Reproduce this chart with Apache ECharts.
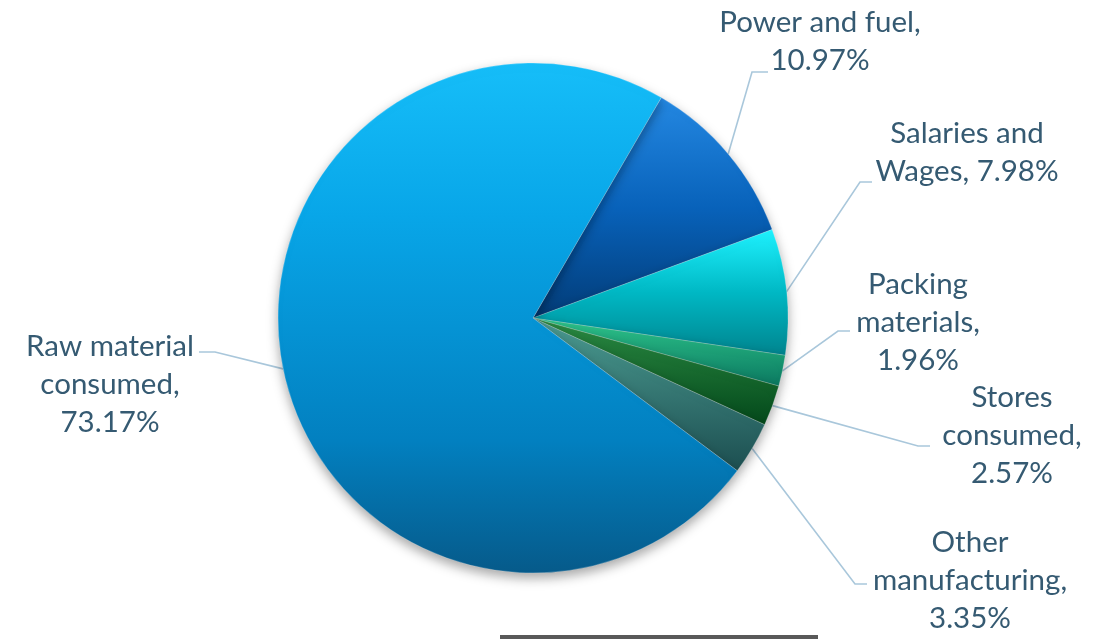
<!DOCTYPE html>
<html>
<head>
<meta charset="utf-8">
<title>Cost structure</title>
<script src="https://cdn.jsdelivr.net/npm/echarts@6/dist/echarts.min.js"></script>
<style>
  html, body { margin: 0; padding: 0; background: #ffffff; }
  #chart { width: 1101px; height: 639px; }
</style>
</head>
<body>
<div id="chart"></div>
<script>
// Cost components, in the order the slices run clockwise
const categories = ['Power and fuel', 'Salaries and\nWages', 'Packing\nmaterials',
  'Stores\nconsumed', 'Other\nmanufacturing', 'Raw material\nconsumed'];
const shares = [10.97, 7.98, 1.96, 2.57, 3.35, 73.17];
// Separator between the name and the value in each label
const separators = [',\n', ', ', ',\n', ',\n', ',\n', ',\n'];

// Gradient stops (top to bottom) for each slice
const sliceStops = [
  [[0, '#2488E2'], [0.5, '#0862BA'], [1, '#023C78']],
  [[0, '#1FF2FF'], [0.5, '#00B8C4'], [1, '#00848E']],
  [[0, '#2FC68C'], [1, '#0A7860']],
  [[0, '#2C8C44'], [1, '#03481A']],
  [[0, '#4C9C92'], [1, '#1C4E50']],
  [[0, '#16BEF9'], [0.3, '#08A6E8'], [0.74, '#0280C0'], [1, '#065A8A']]
];

// Label anchor (text centre) and leader-line bend point, in pixels
const labelPos = [
  { x: 820, y: 41, bend: [752, 72], end: [768, 72] },
  { x: 967, y: 152, bend: [860, 182], end: [872, 182] },
  { x: 918, y: 322, bend: [838, 331], end: [850, 331] },
  { x: 1012, y: 435, bend: [918, 446], end: [930, 446] },
  { x: 970, y: 580, bend: [855, 584], end: [867, 584] },
  { x: 110, y: 384, bend: [215, 352], end: [199, 352] }
];

const chart = echarts.init(document.getElementById('chart'), null, { renderer: 'canvas' });

const data = categories.map((name, i) => ({
  name: name,
  value: shares[i],
  itemStyle: {
    color: new echarts.graphic.LinearGradient(0, 0, 0, 1,
      sliceStops[i].map(s => ({ offset: s[0], color: s[1] })))
  }
}));

chart.setOption({
  animation: false,
  backgroundColor: '#ffffff',
  graphic: [{
    type: 'rect',
    shape: { x: 500, y: 635, width: 318, height: 4 },
    style: { fill: '#595959' }
  }],
  series: [{
    type: 'pie',
    center: [533, 318],
    radius: 255,
    startAngle: 59.8,
    clockwise: true,
    avoidLabelOverlap: false,
    data: data,
    itemStyle: {
      borderColor: 'rgba(255,255,255,0.35)',
      borderWidth: 0.6,
      shadowColor: 'rgba(0,0,0,0.35)',
      shadowBlur: 12,
      shadowOffsetY: 5
    },
    label: {
      show: true,
      formatter: p => p.name + separators[p.dataIndex] + p.value.toFixed(2) + '%',
      fontFamily: 'Lato, "Open Sans", sans-serif',
      fontSize: 29.5,
      lineHeight: 38,
      color: '#355A72',
      align: 'center'
    },
    labelLine: {
      show: true,
      length: 10,
      length2: 10,
      smooth: false,
      lineStyle: { color: '#A9C7DB', width: 1.6 }
    },
    labelLayout: function (params) {
      const pos = labelPos[params.dataIndex];
      const start = params.labelLinePoints ? params.labelLinePoints[0] : pos.bend;
      return {
        x: pos.x,
        y: pos.y,
        align: 'center',
        verticalAlign: 'middle',
        labelLinePoints: [start, pos.bend, pos.end]
      };
    },
    emphasis: { disabled: true }
  }]
});
</script>
</body>
</html>
